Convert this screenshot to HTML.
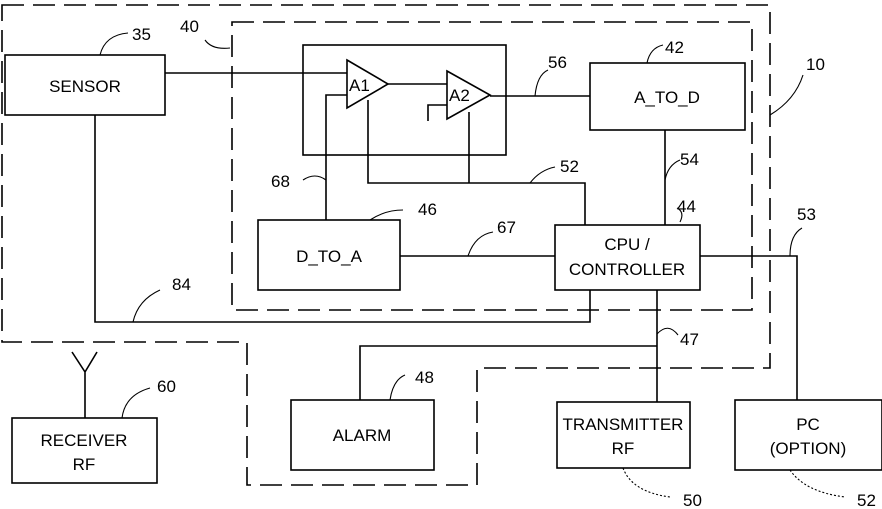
<!DOCTYPE html><html><head><style>body{margin:0;background:#fff}svg{display:block}text{font-family:"Liberation Sans",sans-serif;font-size:17px;fill:#000}</style></head><body>
<svg width="882" height="509" viewBox="0 0 882 509" xmlns="http://www.w3.org/2000/svg" fill="none" stroke="#000" stroke-width="1.6">
<g stroke-dasharray="22,9">
<path d="M2,5 H770 V368 H477 V485 H247 V342 H2 Z"/>
<path d="M232,22 H752 V310 H232 Z"/>
</g>
<rect x="303" y="45" width="203" height="110"/>
<path d="M347,60 L388,84 L347,108 Z"/>
<path d="M447,71 L490,95 L447,119 Z"/>
<rect x="5" y="55" width="160" height="60"/>
<rect x="590" y="63" width="155" height="67"/>
<rect x="258" y="220" width="142" height="70"/>
<rect x="555" y="225" width="145" height="65"/>
<rect x="291" y="400" width="143" height="70"/>
<rect x="557" y="402" width="133" height="66"/>
<rect x="735" y="400" width="147" height="70"/>
<rect x="12" y="418" width="145" height="65"/>
<path d="M165,73 H347 M388,84 H447 M447,105 H428 V121 M490,96 H590 M347,95 H326 V220 M368,100 V183 H585 V225 M469,112 V183 M665,130 V225 M400,256 H555 M700,256 H797 V400 M95,115 V322 H590 V290 M657,290 V402 M657,346 H360 V400 M85,418 V372 L72,352 M85,372 L97,352"/>
<g stroke-width="1.1">
<path d="M100,55 Q105,35 128,33"/><path d="M205,40 Q212,50 230,48"/><path d="M647,63 Q650,48 663,45"/>
<path d="M535,96 Q537,75 548,70"/><path d="M770,115 Q795,100 803,75"/><path d="M665,180 Q668,165 680,160"/>
<path d="M530,183 Q540,170 555,167"/><path d="M680,222 Q685,212 677,208"/><path d="M790,256 Q790,235 802,228"/>
<path d="M370,220 Q385,210 403,210"/><path d="M468,256 Q475,235 493,232"/><path d="M326,180 Q315,172 303,180"/>
<path d="M133,322 Q138,300 160,290"/><path d="M657,334 Q668,322 678,335"/><path d="M390,400 Q393,380 405,375"/>
<path d="M122,418 Q125,395 150,388"/>
<path d="M623,468 Q632,492 670,497" stroke-dasharray="2,2"/><path d="M790,470 Q805,492 845,497" stroke-dasharray="2,2"/>
</g>
<g stroke="none">
<text x="132" y="40">35</text><text x="180" y="32">40</text><text x="665" y="53">42</text><text x="548" y="68">56</text>
<text x="806" y="70">10</text><text x="680" y="165">54</text><text x="560" y="172">52</text><text x="677" y="212">44</text>
<text x="797" y="220">53</text><text x="418" y="215">46</text><text x="497" y="233">67</text><text x="271" y="187">68</text>
<text x="172" y="290">84</text><text x="680" y="345">47</text><text x="415" y="383">48</text><text x="157" y="392">60</text>
<text x="683" y="506">50</text><text x="857" y="506">52</text>
<text x="85" y="92" text-anchor="middle">SENSOR</text>
<text x="667" y="103" text-anchor="middle">A_TO_D</text>
<text x="329" y="262" text-anchor="middle">D_TO_A</text>
<text x="627" y="250" text-anchor="middle">CPU  /</text><text x="627" y="275" text-anchor="middle">CONTROLLER</text>
<text x="362" y="441" text-anchor="middle">ALARM</text>
<text x="623" y="430" text-anchor="middle">TRANSMITTER</text><text x="623" y="454" text-anchor="middle">RF</text>
<text x="808" y="430" text-anchor="middle">PC</text><text x="808" y="454" text-anchor="middle">(OPTION)</text>
<text x="84" y="446" text-anchor="middle">RECEIVER</text><text x="84" y="470" text-anchor="middle">RF</text>
<text x="349" y="91" font-size="15">A1</text><text x="449" y="101" font-size="15">A2</text>
</g>
</svg></body></html>
